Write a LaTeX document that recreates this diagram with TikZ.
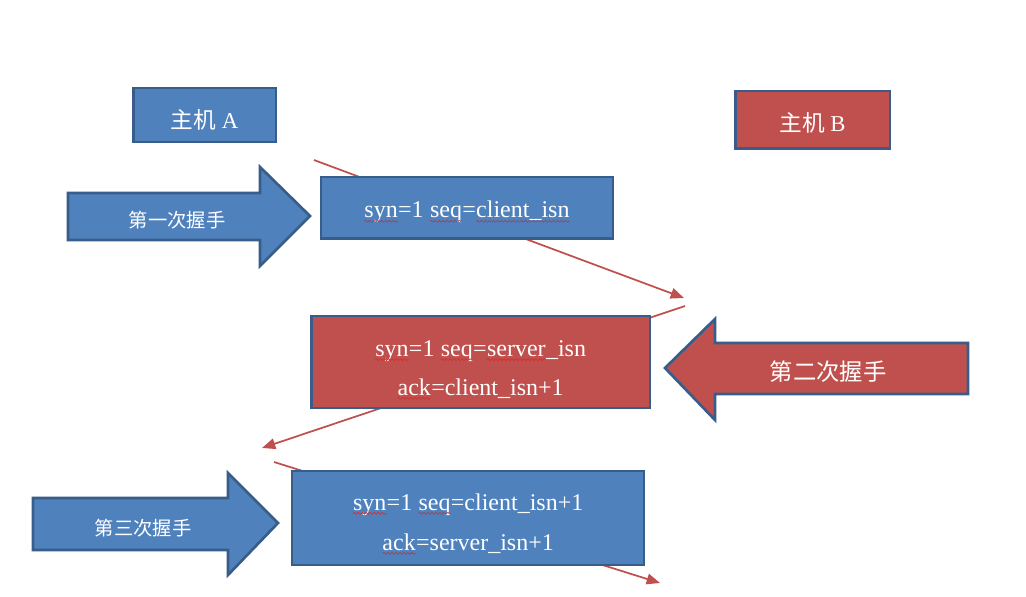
\documentclass[tikz,border=0pt]{standalone}
\usepackage{fontspec}
\setmainfont{Liberation Serif}
\newfontfamily\cjk{Noto Sans CJK SC}
\usetikzlibrary{arrows.meta, decorations.pathmorphing}
\definecolor{hostblue}{HTML}{4F81BD}
\definecolor{hostred}{HTML}{C0504D}
\definecolor{edgeblue}{HTML}{385D8A}
\definecolor{spellred}{HTML}{D03030}
\newcommand{\spell}[1]{\tikz[baseline=(w.base), x=1pt, y=1pt]{%
  \node[draw=none, fill=none, inner sep=0pt, outer sep=0pt, minimum width=0pt, minimum height=0pt, text=white] (w) {#1};
  \draw[spellred, line width=0.5pt, decorate, decoration={snake, amplitude=0.7pt, segment length=3pt}]
    ([yshift=-2.5pt]w.base west) -- ([yshift=-2.5pt]w.base east);}}
\tikzset{
  bluebox/.style={draw=edgeblue, line width=2pt, fill=hostblue, text=white, inner sep=0pt, align=center, text depth=0pt},
  redbox/.style={bluebox, fill=hostred},
  msg/.style={draw=hostred, line width=1.3pt, -{Triangle[length=10pt,width=8pt]}},
  bigarrow/.style={draw=edgeblue, line width=2pt, line join=miter},
}
\begin{document}
\begin{tikzpicture}[x=0.75pt, y=-0.75pt]
\useasboundingbox[fill=white] (0,0) rectangle (1026,597);

% message lines, behind the boxes
\coordinate (s1) at (314,160);
\coordinate (e1) at (684,298);
\coordinate (s2) at (685,306);
\coordinate (e2) at (262,448);
\coordinate (s3) at (274,462);
\coordinate (e3) at (660,583);
\draw[msg] (s1) -- (e1);
\draw[msg] (s2) -- (e2);
\draw[msg] (s3) -- (e3);

% hosts
\node[bluebox, minimum width=107pt, minimum height=40.5pt, text height=20pt, font=\fontsize{17}{20}\selectfont] (hostA) at (204.5,115) {{\cjk 主机} A};
\node[redbox, minimum width=116pt, minimum height=43pt, text height=17.5pt, font=\fontsize{17}{20}\selectfont] (hostB) at (812.5,119.5) {{\cjk 主机} B};

% handshake arrows
\filldraw[bigarrow, fill=hostblue] (68,193) -- (260,193) -- (260,167) -- (310,216) -- (260,266) -- (260,240) -- (68,240) -- cycle;
\node[text=white, font=\cjk\fontsize{14.5}{16}\selectfont] (first) at (177,220) {第一次握手};

\filldraw[bigarrow, fill=hostred] (968,343) -- (715,343) -- (715,319) -- (665,368) -- (715,420) -- (715,394) -- (968,394) -- cycle;
\node[text=white, font=\cjk\fontsize{17.5}{19}\selectfont] (second) at (828,372) {第二次握手};

\filldraw[bigarrow, fill=hostblue] (33,498) -- (228,498) -- (228,473) -- (278,523) -- (228,575) -- (228,550) -- (33,550) -- cycle;
\node[text=white, font=\cjk\fontsize{14.5}{16}\selectfont] (third) at (143,528) {第三次握手};

% segments
\node[bluebox, minimum width=219pt, minimum height=46pt, text height=15.7pt, font=\fontsize{18}{29}\selectfont] (syn) at (467,207.5)
  {\spell{syn}=1 \spell{seq}=\spell{client\_isn}};
\node[redbox, minimum width=254pt, minimum height=69pt, text height=49.5pt, font=\fontsize{18}{29}\selectfont] (synack) at (480.5,362)
  {\spell{syn}=1 \spell{seq}=\spell{server}\_isn\\ \spell{ack}=client\_isn+1};
\node[bluebox, minimum width=264pt, minimum height=70.5pt, text height=48pt, font=\fontsize{18}{30}\selectfont] (ack) at (468,518)
  {\spell{syn}=1 \spell{seq}=client\_isn+1\\ \spell{ack}=server\_isn+1};
\end{tikzpicture}
\end{document}
